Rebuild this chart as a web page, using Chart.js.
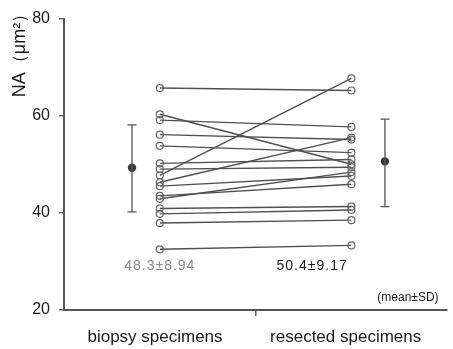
<!DOCTYPE html>
<html>
<head>
<meta charset="utf-8">
<script src="https://cdn.jsdelivr.net/npm/chart.js@4"></script>
<style>
html, body { margin: 0; padding: 0; background: #fff; }
#wrap { width: 453px; height: 349px; position: relative; }
</style>
</head>
<body>
<div id="wrap"><canvas id="naChart"></canvas></div>
<script>
// données
const groups = ['biopsy specimens', 'resected specimens'];
const biopsy   = [65.7, 60.3, 59.1, 56.1, 53.8, 50.2, 49.0, 47.7, 46.3, 45.5, 43.5, 42.9, 40.9, 39.8, 37.9, 32.5];
const resected = [65.2, 50.0, 57.7, 55.1, 52.4, 51.0, 49.4, 67.7, 55.5, 47.6, 45.9, 48.4, 41.3, 40.6, 38.5, 33.3];
const means  = [49.3, 50.6];
const sdLow  = [40.2, 41.3];
const sdHigh = [58.1, 59.3];
const statLabels = ['48.3\u00b18.94', '50.4\u00b19.17'];
const yTicks = [20, 40, 60, 80];

// positions sur l'axe x (échelle linéaire 0..4)
const X_PAIR = [1, 3];
const X_MEAN = [0.71, 3.35];
const X_LABEL = [0.95, 2.94];
const X_TICK = 2;

const lineGray = '#505050';

const datasets = [];

// une ligne par patient
biopsy.forEach((v, i) => {
    datasets.push({
        data: [{ x: X_PAIR[0], y: v }, { x: X_PAIR[1], y: resected[i] }],
        showLine: true,
        borderColor: lineGray,
        borderWidth: 1.4,
        pointRadius: 3.5,
        pointBorderWidth: 1.2,
        pointBorderColor: '#666',
        pointBackgroundColor: 'rgba(255,255,255,0)'
    });
});

// barres d'erreur (moyenne ± SD)
means.forEach((m, i) => {
    datasets.push({
        data: [{ x: X_MEAN[i], y: sdLow[i] }, { x: X_MEAN[i], y: sdHigh[i] }],
        showLine: true,
        borderColor: '#555',
        borderWidth: 1.3,
        pointStyle: 'line',
        pointRadius: 4.5,
        pointBorderWidth: 1.3,
        pointBorderColor: '#555'
    });
    datasets.push({
        data: [{ x: X_MEAN[i], y: m }],
        pointRadius: 4.2,
        pointBorderWidth: 0,
        pointBackgroundColor: '#3a3a3a'
    });
});

const textPlugin = {
    id: 'textPlugin',
    afterDraw(chart) {
        const ctx = chart.ctx;
        const xs = chart.scales.x;
        const ys = chart.scales.y;
        ctx.save();

        // titre de l'axe y
        ctx.save();
        ctx.translate(25, 51);
        ctx.rotate(-Math.PI / 2);
        ctx.font = '18px "Liberation Sans", Arial, sans-serif';
        ctx.fillStyle = '#1a1a1a';
        ctx.textAlign = 'center';
        ctx.textBaseline = 'alphabetic';
        ctx.fillText('NA\uff08\u03bcm\u00b2\uff09', 0, 0);
        ctx.restore();

        // moyennes ± SD
        ctx.textAlign = 'center';
        ctx.textBaseline = 'middle';
        ctx.font = '14px "Liberation Sans", Arial, sans-serif';
        ctx.letterSpacing = '1px';
        ctx.fillStyle = '#8a8a8a';
        ctx.fillText(statLabels[0], xs.getPixelForValue(1.0), ys.getPixelForValue(29.0));
        ctx.fillStyle = '#1a1a1a';
        ctx.fillText(statLabels[1], xs.getPixelForValue(2.59), ys.getPixelForValue(29.0));

        ctx.letterSpacing = '0px';
        ctx.font = '12px "Liberation Sans", Arial, sans-serif';
        ctx.fillText('(mean\u00b1SD)', xs.getPixelForValue(3.59), ys.getPixelForValue(22.6));
        ctx.restore();
    }
};

new Chart(document.getElementById('naChart'), {
    type: 'scatter',
    data: { datasets },
    options: {
        responsive: true,
        maintainAspectRatio: false,
        animation: false,
        layout: { padding: { top: 12, right: 0, left: 0, bottom: 0 } },
        plugins: {
            legend: { display: false },
            tooltip: { enabled: false }
        },
        scales: {
            x: {
                type: 'linear',
                min: 0,
                max: 4,
                afterBuildTicks: scale => {
                    scale.ticks = [{ value: X_LABEL[0] }, { value: X_TICK }, { value: X_LABEL[1] }];
                },
                afterFit: scale => { scale.height = 39; },
                ticks: {
                    autoSkip: false,
                    maxRotation: 0,
                    padding: 11,
                    color: '#1a1a1a',
                    font: { size: 17, family: '"Liberation Sans", Arial, sans-serif' },
                    callback: value => {
                        if (value === X_LABEL[0]) return groups[0];
                        if (value === X_LABEL[1]) return groups[1];
                        return '';
                    }
                },
                grid: {
                    drawOnChartArea: false,
                    tickLength: 6,
                    lineWidth: 1.5,
                    tickColor: c => (c.tick && c.tick.value === X_TICK) ? '#666' : 'rgba(0,0,0,0)'
                },
                border: { color: '#555', width: 2 }
            },
            y: {
                min: 20,
                max: 80,
                afterBuildTicks: scale => {
                    scale.ticks = yTicks.map(v => ({ value: v }));
                },
                afterFit: scale => { scale.width = 64; },
                ticks: {
                    padding: 9,
                    color: '#1a1a1a',
                    font: { size: 16, family: '"Liberation Sans", Arial, sans-serif' }
                },
                grid: {
                    drawOnChartArea: false,
                    tickLength: 5,
                    lineWidth: 1.5,
                    tickColor: '#666'
                },
                border: { color: '#555', width: 2 }
            }
        }
    },
    plugins: [textPlugin]
});
</script>
</body>
</html>
